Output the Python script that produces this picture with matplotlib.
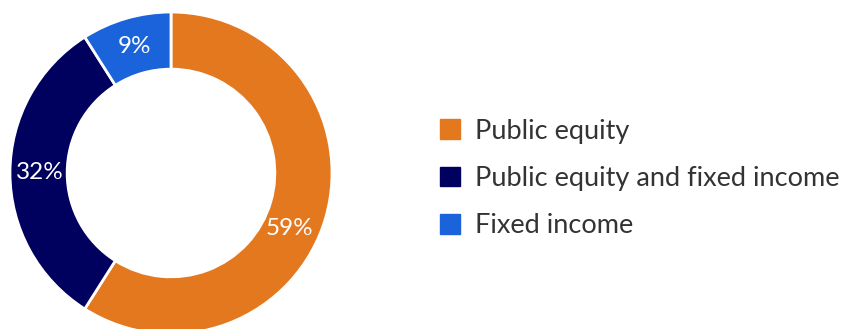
import matplotlib
matplotlib.use('Agg')
import matplotlib.pyplot as plt
import matplotlib.patches as mpatches
import numpy as np

plt.rcParams['font.family'] = ['Lato', 'DejaVu Sans']

# data
labels = ['Public equity', 'Public equity and fixed income', 'Fixed income']
values = [59, 32, 9]
colors = ['#E4781F', '#00005E', '#1A63DA']

W, H = 844, 329
fig = plt.figure(figsize=(W / 100, H / 100), dpi=100)

# donut axes: centre (171, 173) px, radius 161 px
cx, cy, r = 171, 173, 161
ax = fig.add_axes([(cx - r) / W, (H - cy - r) / H, 2 * r / W, 2 * r / H])
wedges, _ = ax.pie(values, colors=colors, startangle=90, counterclock=False,
                   radius=1, wedgeprops=dict(width=0.355, edgecolor='white', linewidth=2))
ax.set_xlim(-1, 1)
ax.set_ylim(-1, 1)
ax.set_aspect('equal')
ax.axis('off')

# percentage labels in the middle of the ring
shift = [-9, 0, 0]
for w, v, s in zip(wedges, values, shift):
    ang = np.deg2rad((w.theta1 + w.theta2) / 2 + s)
    ax.text(0.815 * np.cos(ang), 0.815 * np.sin(ang), f'{v}%', color='white',
            fontsize=17.5, ha='center', va='center')

handles = [mpatches.Patch(color=c) for c in colors]
fig.legend(handles, labels, loc='center left', bbox_to_anchor=(440 / W, 1 - 178.5 / H),
           frameon=False, fontsize=19.5, handlelength=0.74, handleheight=0.74,
           handletextpad=0.55, labelspacing=0.83, borderpad=0, borderaxespad=0,
           labelcolor='#333333')

fig.savefig('out.png', dpi=100)
